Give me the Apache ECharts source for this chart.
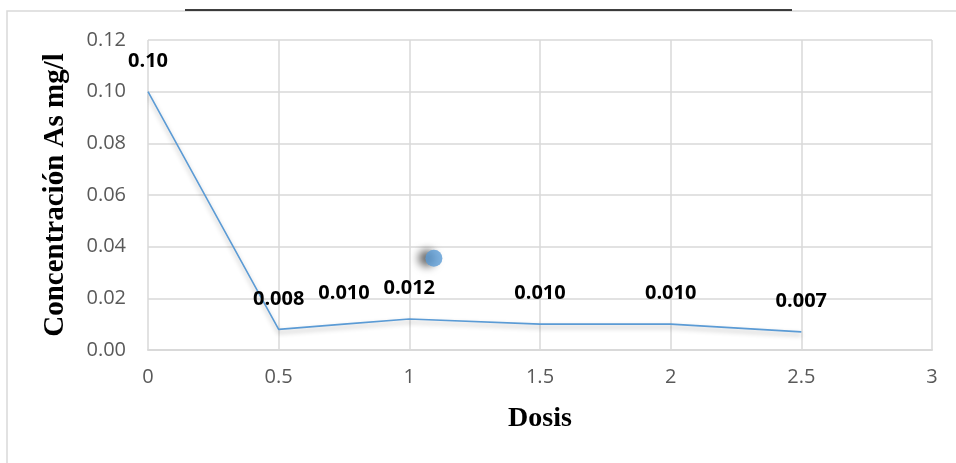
<!DOCTYPE html>
<html><head><meta charset="utf-8">
<script src="https://cdn.jsdelivr.net/npm/echarts@6/dist/echarts.min.js"></script>
<style>html,body{margin:0;padding:0;background:#fff}#c{width:956px;height:463px}</style>
</head><body><div id="c"></div>
<script>
const dosis = [0, 0.5, 0.75, 1, 1.5, 2, 2.5];
const concentracion = [0.10, 0.008, 0.010, 0.012, 0.010, 0.010, 0.007];
const etiquetas = ['0.10', '0.008', '0.010', '0.012', '0.010', '0.010', '0.007'];
const puntoX = [1.094];
const puntoY = [0.0355];
const yTicks = ['0.00','0.02','0.04','0.06','0.08','0.10','0.12'];

const chart = echarts.init(document.getElementById('c'));
chart.setOption({
  animation: false,
  grid: {left: 148, right: 24, top: 40, bottom: 113},
  xAxis: {
    type: 'value', min: 0, max: 3, interval: 0.5,
    name: 'Dosis', nameLocation: 'middle', nameGap: 55,
    nameTextStyle: {fontFamily: 'Liberation Serif', fontWeight: 'bold', fontSize: 28, color: '#000'},
    axisLine: {show: true, lineStyle: {color: '#d9d9d9', width: 2}},
    axisTick: {show: false},
    axisLabel: {color: '#595959', fontSize: 20, fontFamily: 'Open Sans', margin: 17},
    splitLine: {show: true, lineStyle: {color: '#d9d9d9', width: 1.5}}
  },
  yAxis: {
    type: 'value', min: 0, max: 0.12, interval: 0.02,
    name: 'Concentración As mg/l', nameLocation: 'middle', nameGap: 78, nameRotate: 90,
    nameTextStyle: {fontFamily: 'Liberation Serif', fontWeight: 'bold', fontSize: 29, color: '#000'},
    axisLine: {show: false}, axisTick: {show: false},
    axisLabel: {color: '#595959', fontSize: 20, fontFamily: 'Open Sans', margin: 22,
      formatter: (v) => yTicks[Math.round(v / 0.02)]},
    splitLine: {show: true, lineStyle: {color: '#d9d9d9', width: 1.5}}
  },
  series: [
    {
      type: 'line',
      data: dosis.map((x, i) => [x, concentracion[i]]),
      showSymbol: true, symbol: 'circle', symbolSize: 1,
      itemStyle: {color: 'rgba(0,0,0,0)', borderWidth: 0},
      lineStyle: {color: '#5b9bd5', width: 1.6, shadowColor: 'rgba(0,0,0,0.3)', shadowBlur: 5, shadowOffsetY: 3},
      label: {show: true, position: 'top', distance: 20,
        formatter: (p) => etiquetas[p.dataIndex],
        fontFamily: 'Open Sans', fontWeight: 'bold', fontSize: 20, color: '#000'},
      labelLayout: {hideOverlap: false}
    },
    {
      type: 'scatter',
      data: puntoX.map((x, i) => [x, puntoY[i]]),
      symbolSize: 17,
      itemStyle: {color: '#5b9bd5', shadowColor: 'rgba(0,0,0,0.75)', shadowBlur: 8, shadowOffsetX: -7, shadowOffsetY: 0}
    }
  ],
  graphic: [
    {type: 'rect', shape: {x: 7, y: 11, width: 1000, height: 500}, style: {fill: 'none', stroke: '#d9d9d9', lineWidth: 1.5}, z: -1},
    {type: 'line', shape: {x1: 185, y1: 10, x2: 792, y2: 10}, style: {stroke: '#000', lineWidth: 1.5}}
  ]
});
</script></body></html>
